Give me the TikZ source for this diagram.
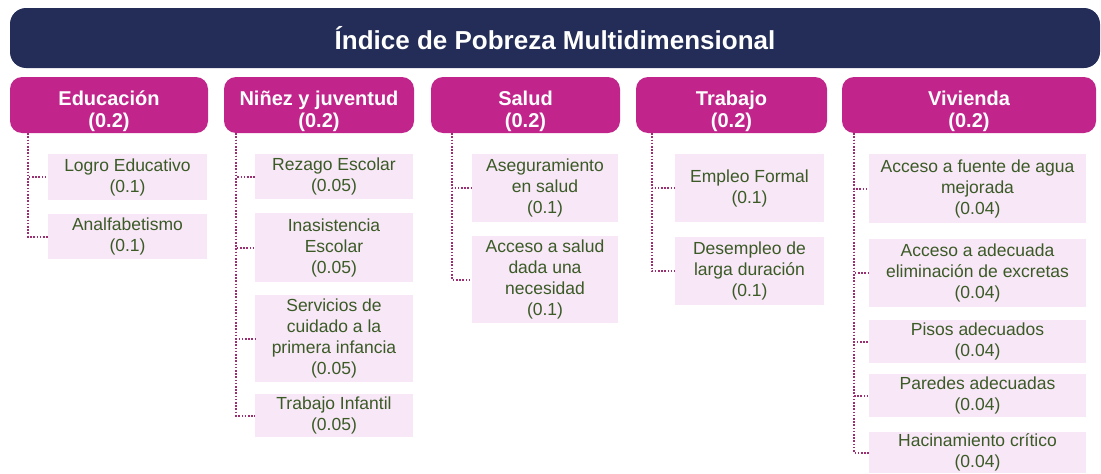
\documentclass[tikz,border=0pt]{standalone}
\usepackage{fontspec}
\setmainfont{Liberation Sans}
\definecolor{navy}{HTML}{232D57}
\definecolor{magenta}{HTML}{C1258C}
\definecolor{lightpink}{HTML}{F7E7F7}
\definecolor{olive}{HTML}{3B5A26}
\definecolor{dotline}{HTML}{9C2F72}

\begin{document}
\begin{tikzpicture}[x=1pt, y=-1pt,
  title/.style = {fill=navy, rounded corners=16pt, text=white, inner sep=0pt,
    font=\bfseries\fontsize{26}{30}\selectfont},
  cat/.style = {fill=magenta, rounded corners=12pt, text=white, align=center, inner sep=0pt,
    minimum height=56pt, text height=50pt, font=\bfseries\fontsize{20}{22}\selectfont},
  item/.style = {fill=lightpink, text=olive, align=center, inner sep=0pt,
    font=\fontsize{17.5}{21}\selectfont},
  link/.style = {draw=dotline, line width=2pt, dash pattern=on 1.6pt off 1.6pt}]
	\useasboundingbox (0,0) rectangle (1101,474);
	\node[title, minimum width=1090pt, minimum height=60pt] (idx) at (555,38) {Índice de Pobreza Multidimensional};
	% dimensiones
	\node[cat, minimum width=198pt] (edu) at (109,105) {Educación\\(0.2)};
	\node[cat, minimum width=190pt] (nin) at (319,105) {Niñez y juventud\\(0.2)};
	\node[cat, minimum width=189pt] (sal) at (525.5,105) {Salud\\(0.2)};
	\node[cat, minimum width=191pt] (tra) at (731.5,105) {Trabajo\\(0.2)};
	\node[cat, minimum width=254pt] (viv) at (969,105) {Vivienda\\(0.2)};
	% indicadores
	\node[item, minimum width=159pt, minimum height=46pt] (e1) at (127.5,177) {Logro Educativo\\(0.1)};
	\node[item, minimum width=159pt, minimum height=45pt] (e2) at (127.5,236.5) {Analfabetismo\\(0.1)};
	\node[item, minimum width=158pt, minimum height=45pt] (n1) at (334,176.5) {Rezago Escolar\\(0.05)};
	\node[item, minimum width=158pt, minimum height=69pt] (n2) at (334,247.5) {Inasistencia\\Escolar\\(0.05)};
	\node[item, minimum width=158pt, minimum height=87pt] (n3) at (334,338.5) {Servicios de\\cuidado a la\\primera infancia\\(0.05)};
	\node[item, minimum width=158pt, minimum height=43pt] (n4) at (334,415.5) {Trabajo Infantil\\(0.05)};
	\node[item, minimum width=146pt, minimum height=68pt] (s1) at (545,188) {Aseguramiento\\en salud\\(0.1)};
	\node[item, minimum width=146pt, minimum height=87pt] (s2) at (545,279.5) {Acceso a salud\\dada una\\necesidad\\(0.1)};
	\node[item, minimum width=149pt, minimum height=68pt] (t1) at (749.5,188) {Empleo Formal\\(0.1)};
	\node[item, minimum width=149pt, minimum height=68pt] (t2) at (749.5,271) {Desempleo de\\larga duración\\(0.1)};
	\node[item, minimum width=217pt, minimum height=69pt] (v1) at (977.5,188.5) {Acceso a fuente de agua\\mejorada\\(0.04)};
	\node[item, minimum width=217pt, minimum height=68pt] (v2) at (977.5,273) {Acceso a adecuada\\eliminación de excretas\\(0.04)};
	\node[item, minimum width=217pt, minimum height=43pt] (v3) at (977.5,341.5) {Pisos adecuados\\(0.04)};
	\node[item, minimum width=217pt, minimum height=43pt] (v4) at (977.5,395.5) {Paredes adecuadas\\(0.04)};
	\node[item, minimum width=217pt, minimum height=41pt] (v5) at (977.5,452.5) {Hacinamiento crítico\\(0.04)};
	% conectores
	\draw[link] (edu.south west) ++(18,0) |- (e1.west);
	\draw[link] (edu.south west) ++(18,0) |- (e2.west);
	\draw[link] (nin.south west) ++(12,0) |- (n1.west);
	\draw[link] (nin.south west) ++(12,0) |- (n2.west);
	\draw[link] (nin.south west) ++(12,0) |- (n3.west);
	\draw[link] (nin.south west) ++(12,0) |- (n4.west);
	\draw[link] (sal.south west) ++(21,0) |- (s1.west);
	\draw[link] (sal.south west) ++(21,0) |- (s2.west);
	\draw[link] (tra.south west) ++(16,0) |- (t1.west);
	\draw[link] (tra.south west) ++(16,0) |- (t2.west);
	\draw[link] (viv.south west) ++(12,0) |- (v1.west);
	\draw[link] (viv.south west) ++(12,0) |- (v2.west);
	\draw[link] (viv.south west) ++(12,0) |- (v3.west);
	\draw[link] (viv.south west) ++(12,0) |- (v4.west);
	\draw[link] (viv.south west) ++(12,0) |- (v5.west);
\end{tikzpicture}
\end{document}
